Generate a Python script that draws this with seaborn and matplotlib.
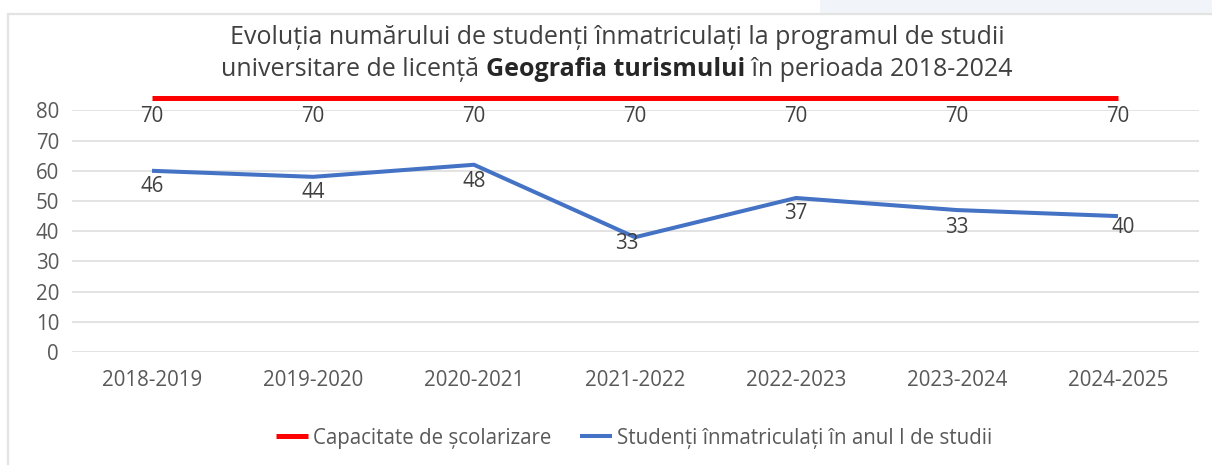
import pandas as pd
import matplotlib
matplotlib.use("Agg")
import matplotlib.pyplot as plt
from matplotlib.patches import Rectangle
import seaborn as sns

# Data
years = ["2018-2019", "2019-2020", "2020-2021", "2021-2022",
         "2022-2023", "2023-2024", "2024-2025"]
capacity_line = [84, 84, 84, 84, 84, 84, 84]       # where the red line is drawn
capacity_labels = [70, 70, 70, 70, 70, 70, 70]     # data labels shown
students_line = [60, 58, 62, 38, 51, 47, 45]       # where the blue line is drawn
students_labels = [46, 44, 48, 33, 37, 33, 40]     # data labels shown

cap_name = "Capacitate de școlarizare"
stud_name = "Studenți înmatriculați în anul I de studii"

df = pd.DataFrame({"an": years, "cap": capacity_line, "stud": students_line})

sns.set_theme(style="white")
plt.rcParams["font.family"] = ["Open Sans", "DejaVu Sans"]

W, H = 1212, 465
fig = plt.figure(figsize=(W / 100, H / 100), dpi=100)
ax = fig.add_axes([71.5 / W, 1 - 352 / H, 1127 / W, 241.6 / H])

RED = "#ff0000"
BLUE = "#4472c4"
TXT = "#404040"
TICK = "#595959"
FS = 14.8

sns.lineplot(data=df, x="an", y="cap", ax=ax, color=RED, lw=3.6, label=cap_name, sort=False)
sns.lineplot(data=df, x="an", y="stud", ax=ax, color=BLUE, lw=2.9, label=stud_name, sort=False)
for ln in ax.lines:
    ln.set_clip_on(False)
    ln.set_solid_capstyle("butt")

ax.set_ylim(0, 80)
ax.set_xlim(-0.5, len(years) - 0.5)
ax.set_yticks(range(0, 81, 10))
ax.grid(axis="y", color="#e0e0e0", lw=1.3)
ax.set_axisbelow(True)
for s in ax.spines.values():
    s.set_visible(False)
ax.set_xlabel("")
ax.set_ylabel("")
ax.tick_params(axis="both", length=0, labelsize=FS, colors=TICK)
ax.tick_params(axis="y", pad=9)
ax.tick_params(axis="x", pad=13)

# data labels (pixel offsets -> points)
px = 0.72
for i, v in enumerate(capacity_line):
    ax.annotate(str(capacity_labels[i]), (i, v), xytext=(0, -18 * px), textcoords="offset points",
                ha="center", va="center", fontsize=FS, color=TXT, annotation_clip=False)
stud_off = [(0, -16), (0, -16), (0, -17), (-8, -6), (0, -16), (0, -17), (5, -11)]
for i, v in enumerate(students_line):
    dx, dy = stud_off[i]
    ax.annotate(str(students_labels[i]), (i, v), xytext=(dx * px, dy * px), textcoords="offset points",
                ha="center", va="center", fontsize=FS, color=TXT)

# legend
ax.get_legend().remove()
handles, labels = ax.get_legend_handles_labels()
fig.legend(handles, labels, loc="center", bbox_to_anchor=(634 / W, 1 - 438 / H), ncol=2,
           frameon=False, fontsize=FS, handlelength=1.55, handletextpad=0.25,
           columnspacing=1.4, labelcolor=TICK)

# title: line 1 plain, line 2 with a bold part
tsize = 18
cx = 617 / W
fig.text(cx, 1 - 37 / H, "Evoluția numărului de studenți înmatriculați la programul de studii",
         ha="center", va="center", fontsize=tsize, color=TXT)
parts = [("universitare de licență ", "normal", TXT),
         ("Geografia turismului", "bold", "#262626"),
         (" în perioada 2018-2024", "normal", TXT)]
fig.canvas.draw()
r = fig.canvas.get_renderer()
objs = []
for txt, wgt, col in parts:
    t = fig.text(0, 1 - 69 / H, txt, ha="left", va="center", fontsize=tsize, fontweight=wgt, color=col)
    objs.append(t)
widths = [t.get_window_extent(r).width / W for t in objs]
x = cx - sum(widths) / 2
for t, w in zip(objs, widths):
    t.set_x(x)
    x += w

# chart area frame and faint header strip
fig.patches.append(Rectangle((820 / W, 1 - 13 / H), 1 - 820 / W, 13 / H, transform=fig.transFigure,
                             facecolor="#f1f5f9", edgecolor="none", zorder=0))
fig.patches.append(Rectangle((8 / W, -0.05), 1.1, 1 - 14 / H + 0.05, transform=fig.transFigure,
                             facecolor="none", edgecolor="#e3e3e3", lw=1.6, zorder=1))

fig.savefig("out.png", dpi=100)
